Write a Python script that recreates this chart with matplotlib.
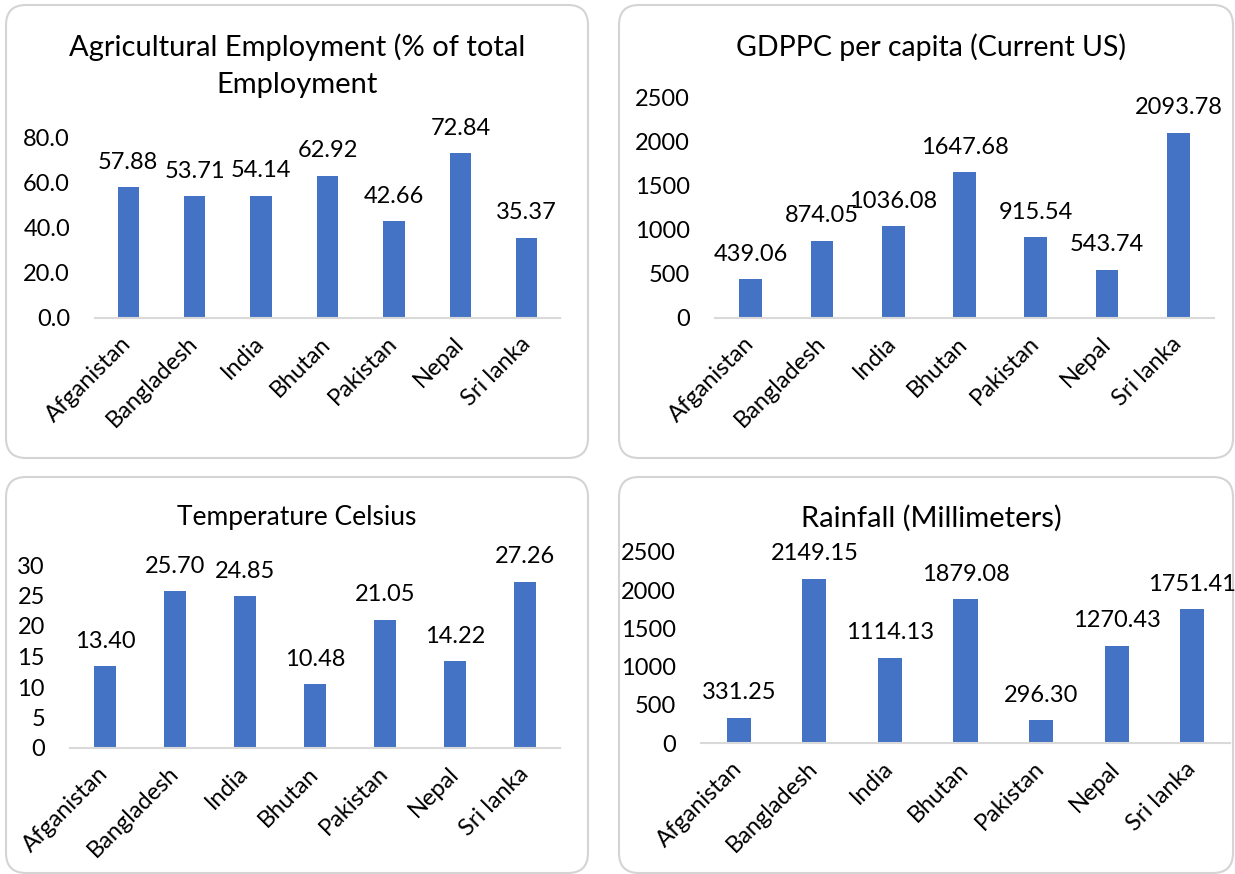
import matplotlib
matplotlib.use("Agg")
import matplotlib.pyplot as plt
from matplotlib.patches import FancyBboxPatch
from matplotlib.transforms import IdentityTransform
from matplotlib.ticker import FormatStrFormatter

plt.rcParams["font.family"] = ["Lato", "DejaVu Sans"]

countries = ["Afganistan", "Bangladesh", "India", "Bhutan", "Pakistan", "Nepal", "Sri lanka"]

agri_employment = [57.88, 53.71, 54.14, 62.92, 42.66, 72.84, 35.37]
gdppc = [439.06, 874.05, 1036.08, 1647.68, 915.54, 543.74, 2093.78]
temperature = [13.40, 25.70, 24.85, 10.48, 21.05, 14.22, 27.26]
rainfall = [331.25, 2149.15, 1114.13, 1879.08, 296.30, 1270.43, 1751.41]

BAR_COLOR = "#4472C4"
AXIS_GREY = "#d9d9d9"
W, H = 1235, 874
TEXT_FS = 17

fig = plt.figure(figsize=(W / 100, H / 100), dpi=100)


def px_box(x0, y0, x1, y1):
    """Rounded chart frame, pixel coords measured from the top-left."""
    patch = FancyBboxPatch((x0, H - y1), x1 - x0, y1 - y0,
                           boxstyle="round,pad=0,rounding_size=20",
                           transform=IdentityTransform(), facecolor="none",
                           edgecolor="#d4d4d4", linewidth=1.5, zorder=-1)
    fig.patches.append(patch)


def px_axes(x0, ytop, x1, ybot):
    return fig.add_axes([x0 / W, 1 - ybot / H, (x1 - x0) / W, (ybot - ytop) / H])


def px_text(x, y, s, size=21):
    fig.text(x / W, 1 - y / H, s, ha="center", va="center", fontsize=size)


def bar_panel(ax, values, ymax, step, yfmt):
    ax.bar(range(len(countries)), values, width=0.32, color=BAR_COLOR, zorder=2)
    ax.set_xlim(-0.5, len(countries) - 0.5)
    ax.set_ylim(0, ymax)
    ax.set_yticks([step * i for i in range(int(round(ymax / step)) + 1)])
    ax.yaxis.set_major_formatter(FormatStrFormatter(yfmt))
    ax.set_xticks(range(len(countries)))
    ax.set_xticklabels(countries, rotation=45, ha="right", rotation_mode="anchor",
                       va="center")
    ax.tick_params(axis="both", length=0, labelsize=TEXT_FS)
    ax.tick_params(axis="y", pad=18)
    ax.tick_params(axis="x", pad=16)
    for side in ("top", "right", "left"):
        ax.spines[side].set_visible(False)
    ax.spines["bottom"].set_color(AXIS_GREY)
    ax.spines["bottom"].set_linewidth(1.5)
    ax.set_facecolor("none")
    for i, v in enumerate(values):
        ax.annotate(f"{v:.2f}", (i, v), xytext=(0, 18), textcoords="offset points",
                    ha="center", va="center", fontsize=TEXT_FS)


# chart frames
px_box(6, 5, 588, 458)
px_box(619, 5, 1233, 458)
px_box(6, 477, 588, 873)
px_box(619, 477, 1233, 873)

ax1 = px_axes(95, 137, 560, 318)
bar_panel(ax1, agri_employment, 80, 20, "%.1f")
px_text(297, 47, "Agricultural Employment (% of total")
px_text(297, 85, "Employment")

ax2 = px_axes(715, 97, 1214, 318)
bar_panel(ax2, gdppc, 2500, 500, "%d")
px_text(931, 47, "GDPPC per capita (Current US)", size=20.5)

ax3 = px_axes(70, 565, 560, 748)
bar_panel(ax3, temperature, 30, 5, "%d")
px_text(297, 517, "Temperature Celsius", size=19)

ax4 = px_axes(701, 552, 1230, 743)
bar_panel(ax4, rainfall, 2500, 500, "%d")
px_text(931, 518, "Rainfall (Millimeters)")

fig.savefig("out.png", dpi=100)
